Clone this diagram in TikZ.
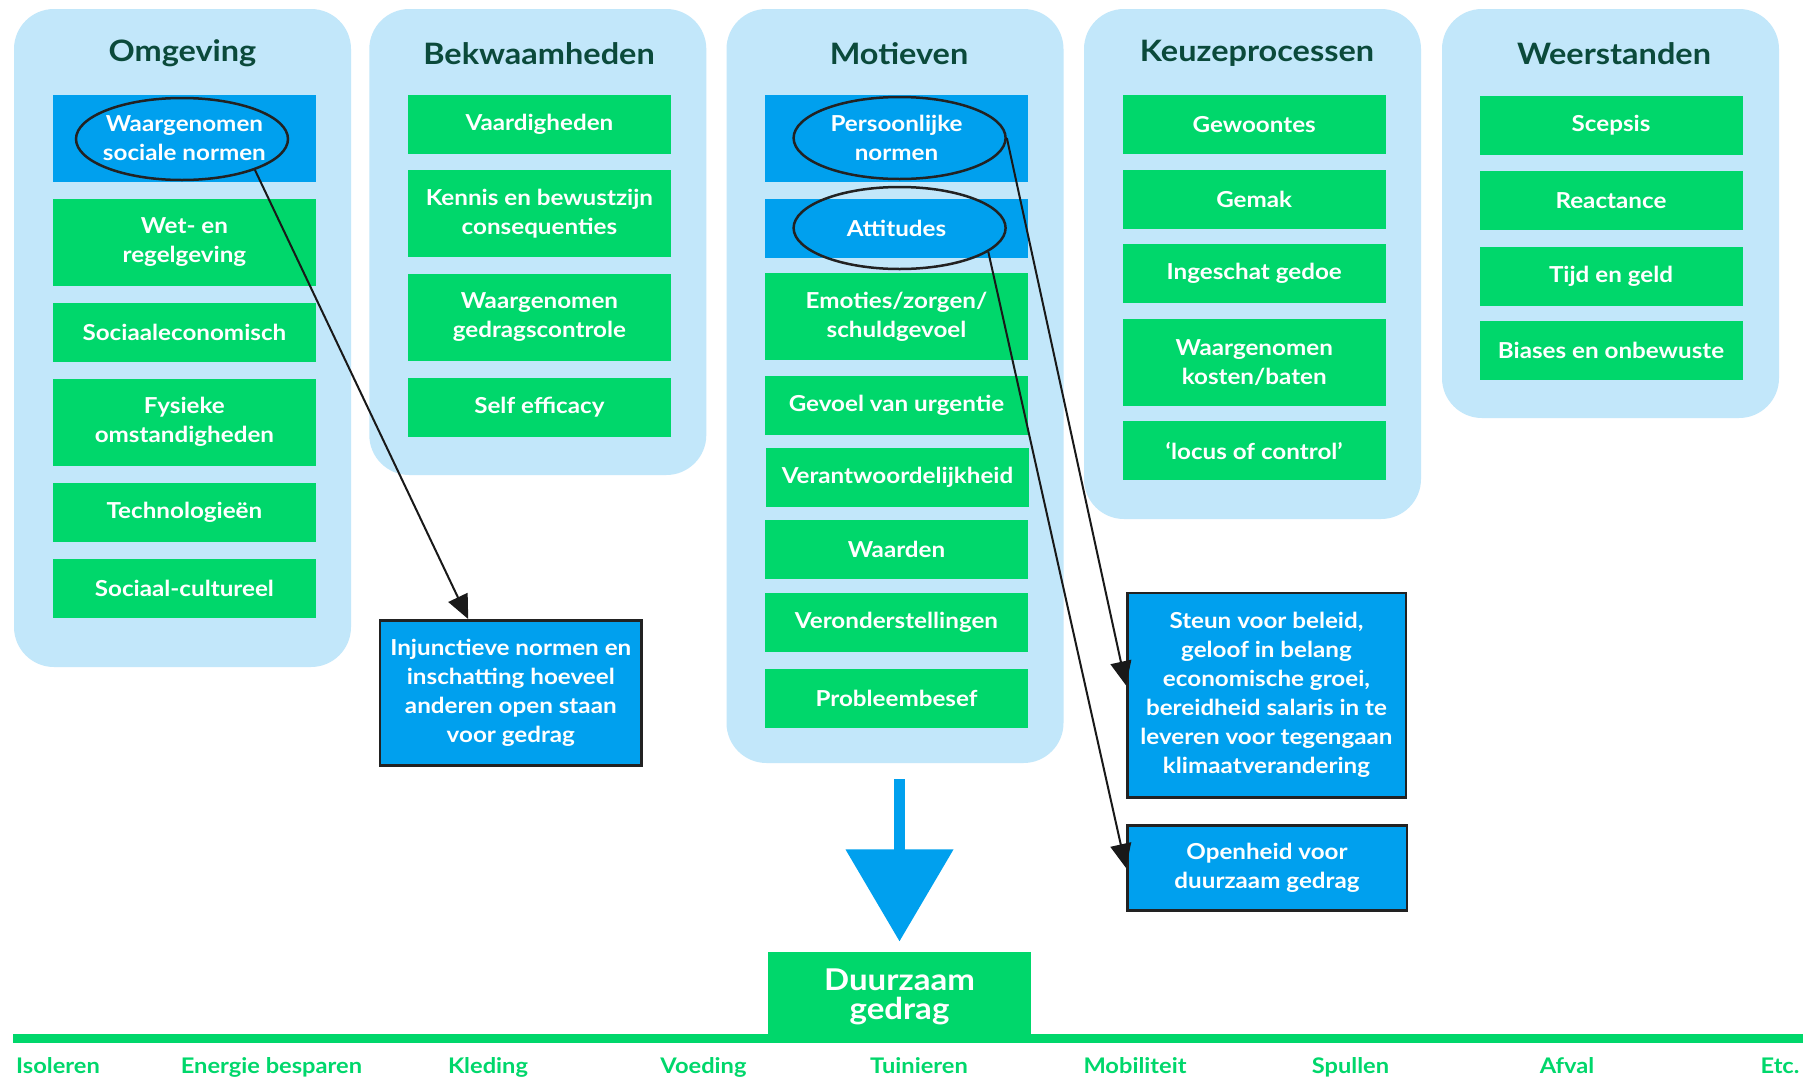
\documentclass[tikz,border=0pt]{standalone}
\usepackage{fontspec}
\setmainfont{Lato}[FakeStretch=1.1]
\usetikzlibrary{arrows.meta,shapes.geometric,calc}
\definecolor{panelblue}{HTML}{C2E7FA}
\definecolor{boxgreen}{HTML}{00D76B}
\definecolor{boxblue}{HTML}{00A0EE}
\definecolor{titlegreen}{HTML}{0B4A3B}
\definecolor{edgedark}{HTML}{222222}
\begin{document}
\begin{tikzpicture}[x=1pt,y=-1pt,
  panel/.style={fill=panelblue, rounded corners=40pt, minimum width=337pt, inner sep=0pt},
  ptitle/.style={font=\fontsize{29.5}{32}\selectfont\bfseries, text=titlegreen},
  itemfont/.style={font=\fontsize{22}{29}\selectfont\bfseries},
  gitem/.style={itemfont, fill=boxgreen, text=white, align=center, minimum width=263pt, minimum height=59pt, inner sep=0pt},
  bitem/.style={gitem, fill=boxblue},
  tall/.style={minimum height=87pt},
  ring/.style={ellipse, draw=edgedark, line width=2.5pt, minimum width=212pt, minimum height=82pt, inner sep=0pt},
  outbox/.style={itemfont, fill=boxblue, draw=edgedark, line width=2.5pt, text=white, align=center, inner sep=0pt},
  conn/.style={draw=black!90, line width=2pt, -{Triangle[length=24pt,width=21pt]}},
  catlabel/.style={font=\fontsize{21.5}{25}\selectfont\bfseries, text=boxgreen, anchor=base}
]
\fill[white] (0,0) rectangle (1816,1077);
\useasboundingbox (0,0) rectangle (1816,1077);

% panels
\node[panel, minimum height=658pt] (p1) at (182.5,338) {};
\node[panel, minimum height=466pt] (p2) at (537.8,242) {};
\node[panel, minimum height=754pt] (p3) at (895,386) {};
\node[panel, minimum height=510pt] (p4) at (1252.5,264) {};
\node[panel, minimum height=409pt] (p5) at (1610.5,213.5) {};

\node[ptitle] (t1) at (182.5,53.5) {Omgeving};
\node[ptitle] (t2) at (539,53.5) {Bekwaamheden};
\node[ptitle] (t3) at (899,53.5) {Motieven};
\node[ptitle] (t4) at (1257,53.5) {Keuzeprocessen};
\node[ptitle] (t5) at (1614,53.5) {Weerstanden};

% Omgeving
\node[bitem, tall] (o1) at (184.4,138.3) {Waargenomen\\sociale normen};
\node[gitem, tall] (o2) at (184.4,242.3) {Wet- en\\regelgeving};
\node[gitem] (o3) at (184.4,332.3) {Sociaaleconomisch};
\node[gitem, tall] (o4) at (184.4,422.3) {Fysieke\\omstandigheden};
\node[gitem] (o5) at (184.4,512.3) {Technologieën};
\node[gitem] (o6) at (184.4,588.3) {Sociaal-cultureel};

% Bekwaamheden
\node[gitem] (b1) at (539.4,124.5) {Vaardigheden};
\node[gitem, tall] (b2) at (539.4,213.3) {Kennis en bewustzijn\\consequenties};
\node[gitem, tall] (b3) at (539.4,317.3) {Waargenomen\\gedragscontrole};
\node[gitem] (b4) at (539.4,407.3) {Self efficacy};

% Motieven
\node[bitem, tall] (m1) at (896.5,138.3) {Persoonlijke\\normen};
\node[bitem] (m2) at (896.5,228.3) {Attitudes};
\node[gitem, tall] (m3) at (896.5,316.5) {Emoties/zorgen/\\schuldgevoel};
\node[gitem] (m4) at (896.5,405.5) {Gevoel van urgentie};
\node[gitem] (m5) at (897.5,477.5) {Verantwoordelijkheid};
\node[gitem] (m6) at (896.5,549.3) {Waarden};
\node[gitem] (m7) at (896.5,622.3) {Veronderstellingen};
\node[gitem] (m8) at (896.5,698.3) {Probleembesef};

% Keuzeprocessen
\node[gitem] (k1) at (1254.2,124.5) {Gewoontes};
\node[gitem] (k2) at (1254.2,199.5) {Gemak};
\node[gitem] (k3) at (1254.2,273.3) {Ingeschat gedoe};
\node[gitem, tall] (k4) at (1254.2,362.3) {Waargenomen\\kosten/baten};
\node[gitem] (k5) at (1254.2,450.5) {‘locus of control’};

% Weerstanden
\node[gitem] (w1) at (1611,125.3) {Scepsis};
\node[gitem] (w2) at (1611,200.8) {Reactance};
\node[gitem] (w3) at (1611,276) {Tijd en geld};
\node[gitem] (w4) at (1611,350.5) {Biases en onbewuste};

% ellipses
\node[ring] (e1) at (182,139) {};
\node[ring] (e2) at (899.6,138) {};
\node[ring] (e3) at (899.6,228) {};

% outcome boxes
\node[outbox, minimum width=261.5pt, minimum height=145pt] (inj) at (510.8,692.8)
  {Injunctieve normen en\\inschatting hoeveel\\anderen open staan\\voor gedrag};
\node[outbox, minimum width=278.5pt, minimum height=204.5pt] (steun) at (1266.5,695.2)
  {Steun voor beleid,\\geloof in belang\\economische groei,\\bereidheid salaris in te\\leveren voor tegengaan\\klimaatverandering};
\node[outbox, minimum width=279.5pt, minimum height=85pt] (open) at (1267,867.9)
  {Openheid voor\\duurzaam gedrag};

% connectors
\draw[conn] (e1.-23) -- (inj.120);
\draw[conn] (e2.east) -- (steun.176);
\draw[conn] (e3.-15) -- (open.west);

% bottom
\node[gitem, minimum height=91.3pt, font=\fontsize{30}{29}\selectfont\bfseries] (dg) at (899.5,997.3) {Duurzaam\\gedrag};
\node[fill=boxgreen, minimum width=1790.3pt, minimum height=8.7pt, inner sep=0pt] (ground) at (907.85,1038.35) {};
\coordinate (bigA) at (899.5,779);
\draw[boxblue, line width=11.5pt, -{Triangle[length=92pt,width=105pt]}] (bigA) -- ($(dg.north)+(0,-10)$);

\node[catlabel, anchor=base west] (c1) at (12.7,1073) {Isoleren};
\node[catlabel] (c2) at (271.5,1073) {Energie besparen};
\node[catlabel] (c3) at (488,1073) {Kleding};
\node[catlabel] (c4) at (703.5,1073) {Voeding};
\node[catlabel] (c5) at (919,1073) {Tuinieren};
\node[catlabel] (c6) at (1135,1073) {Mobiliteit};
\node[catlabel] (c7) at (1350.5,1073) {Spullen};
\node[catlabel] (c8) at (1567,1073) {Afval};
\node[catlabel, anchor=base east] (c9) at (1803,1073) {Etc.};
\end{tikzpicture}
\end{document}
